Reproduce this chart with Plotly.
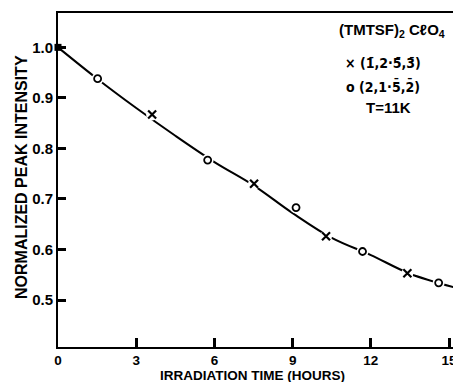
import plotly.graph_objects as go

# Data
cross_t = [3.61, 7.52, 10.28, 13.40]
cross_v = [0.867, 0.730, 0.626, 0.553]
circle_t = [1.52, 5.74, 9.13, 11.68, 14.60]
circle_v = [0.938, 0.777, 0.683, 0.596, 0.534]
start_t = [0.0]
start_v = [1.0]
curve_t = [0, 1.5, 3, 4.5, 6, 7.5, 9, 10.5, 12, 13.5, 15.2]
curve_v = [1.000, 0.938, 0.880, 0.825, 0.773, 0.727, 0.672, 0.623, 0.589, 0.552, 0.525]
x_ticks = [0, 3, 6, 9, 12, 15]
y_ticks = [0.5, 0.6, 0.7, 0.8, 0.9, 1.0]
y_ticklabels = ["0.5", "0.6", "0.7", "0.8", "0.9", "1.0"]

FONT = "Liberation Sans, Arial, sans-serif"
COND = "DejaVu Sans Condensed, DejaVu Sans, sans-serif"

fig = go.Figure()
fig.add_trace(go.Scatter(x=curve_t, y=curve_v, mode="lines",
                         line=dict(color="black", width=2, shape="spline", smoothing=1.0),
                         hoverinfo="skip", cliponaxis=True))
# white halos to create gaps in the curve around markers
fig.add_trace(go.Scatter(x=cross_t + circle_t, y=cross_v + circle_v, mode="markers",
                         marker=dict(symbol="circle", size=12, color="white", line=dict(width=0)),
                         hoverinfo="skip"))
fig.add_trace(go.Scatter(x=cross_t, y=cross_v, mode="markers",
                         marker=dict(symbol="x-thin-open", size=8, color="black",
                                     line=dict(width=2.2, color="black"))))
fig.add_trace(go.Scatter(x=circle_t, y=circle_v, mode="markers",
                         marker=dict(symbol="circle-open", size=7, color="black",
                                     line=dict(width=1.8, color="black"))))
fig.add_trace(go.Scatter(x=start_t, y=start_v, mode="markers", cliponaxis=False,
                         marker=dict(symbol="square", size=7, color="black", line=dict(width=0))))

fig.update_layout(
    width=453, height=382,
    margin=dict(l=58, r=0, t=13, b=35, autoexpand=False),
    paper_bgcolor="white", plot_bgcolor="white",
    showlegend=False,
    font=dict(family=FONT, color="black", size=13),
    xaxis=dict(range=[0, 15.15], tickvals=x_ticks, ticktext=[str(v) for v in x_ticks],
               ticks="inside", ticklen=9, tickwidth=3, tickcolor="black",
               showline=True, linecolor="black", linewidth=2, mirror=True,
               showgrid=False, zeroline=False, automargin=False,
               ticklabeloverflow="allow", ticklabelstandoff=0,
               tickfont=dict(family=FONT, size=13.5, weight="bold")),
    yaxis=dict(range=[0.407, 1.068], tickvals=y_ticks, ticktext=y_ticklabels,
               ticks="inside", ticklen=8, tickwidth=3, tickcolor="black",
               showline=True, linecolor="black", linewidth=2, mirror=False,
               showgrid=False, zeroline=False, automargin=False,
               ticklabeloverflow="allow",
               tickfont=dict(family=FONT, size=15, weight="bold")),
)

def ann(text, x, y, size=13, angle=0, family=FONT):
    fig.add_annotation(text=text, xref="paper", yref="paper",
                       x=(x - 58) / 395, y=(347 - y) / 334,
                       showarrow=False, textangle=angle, xanchor="center", yanchor="middle",
                       font=dict(family=family, size=size, color="black", weight="bold"))

ann("NORMALIZED PEAK INTENSITY", 21, 177, size=16, angle=-90)
ann("IRRADIATION TIME (HOURS)", 252, 375, size=13.5)
ann("(TMTSF)<sub>2</sub> C\u2113O<sub>4</sub>", 392, 31, size=15)
ann("\u00d7 (1\u0304,2\u00b75\u0304,3\u0304)", 383, 63, size=14, family=COND)
ann("o (2,1\u00b75\u0304,2\u0304)", 383, 86, size=14, family=COND)
ann("T=11K", 388, 107, size=15)

fig.write_html("out.html")
